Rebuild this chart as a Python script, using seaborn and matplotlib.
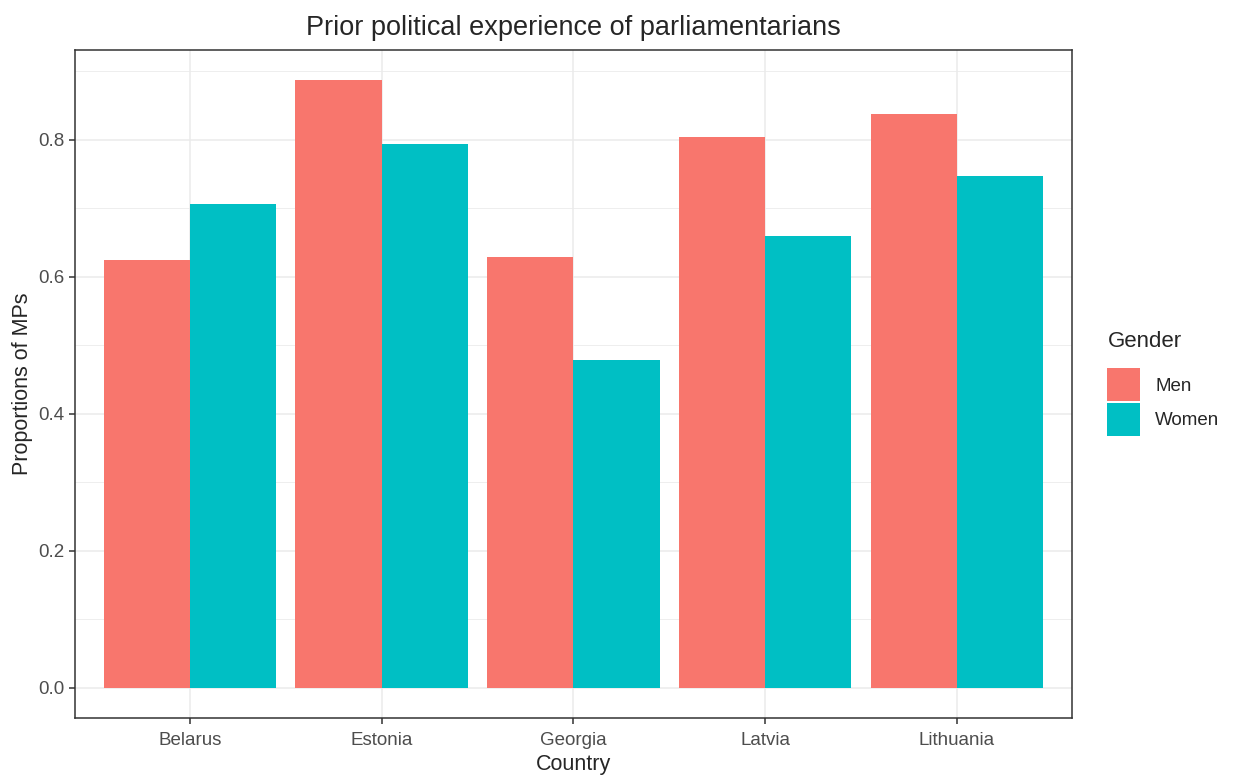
import pandas as pd
import numpy as np
import matplotlib.pyplot as plt
import seaborn as sns
from matplotlib.patches import Patch

# data
countries = ["Belarus", "Estonia", "Georgia", "Latvia", "Lithuania"]
men = [0.625, 0.887, 0.629, 0.804, 0.838]
women = [0.706, 0.794, 0.479, 0.660, 0.747]
genders = ["Men", "Women"]
colors = ["#F8766D", "#00BFC4"]

df = pd.DataFrame({
    "Country": countries * 2,
    "Gender": ["Men"] * len(countries) + ["Women"] * len(countries),
    "Proportion": men + women,
})

sns.set_style("white")
plt.rcParams["font.family"] = ["Liberation Sans", "DejaVu Sans"]

fig = plt.figure(figsize=(12.35, 7.76), dpi=100)
ax = fig.add_axes([0.0607, 0.0747, 0.8073, 0.8609])

sns.barplot(data=df, x="Country", y="Proportion", hue="Gender",
            hue_order=genders, palette=colors, width=0.9,
            saturation=1, errorbar=None, ax=ax, zorder=3, linewidth=0)

ax.set_xlim(-0.6, 4.6)
ax.set_ylim(-0.0444, 0.931)
ax.set_yticks([0, 0.2, 0.4, 0.6, 0.8])
ax.set_yticklabels(["0.0", "0.2", "0.4", "0.6", "0.8"])
ax.set_yticks([0.1, 0.3, 0.5, 0.7, 0.9], minor=True)

ax.grid(True, which="major", color="#EBEBEB", linewidth=1.1, zorder=0)
ax.grid(True, which="minor", axis="y", color="#EBEBEB", linewidth=0.6, zorder=0)
ax.set_axisbelow(True)

for s in ax.spines.values():
    s.set_color("#333333")
    s.set_linewidth(1.1)

ax.tick_params(axis="both", which="major", length=4, width=1.1, color="#333333",
               labelcolor="#4D4D4D", labelsize=13.5, left=True, bottom=True)
ax.tick_params(axis="x", which="major", pad=6)
ax.tick_params(axis="both", which="minor", length=0)

ax.set_xlabel("Country", fontsize=15.5, labelpad=4)
ax.set_ylabel("Proportions of MPs", fontsize=15.5, labelpad=4)
ax.set_title("Prior political experience of parliamentarians", fontsize=19.5, pad=11)

ax.get_legend().remove()
handles = [Patch(facecolor=c, edgecolor="none") for c in colors]
leg = fig.legend(handles, genders, title="Gender", loc="center left",
                 bbox_to_anchor=(0.883, 0.506), frameon=False, fontsize=13.5,
                 title_fontsize=16, handlelength=1.76, handleheight=2.3,
                 handletextpad=0.8, labelspacing=0.12, alignment="left")
leg._legend_box.sep = 12

fig.savefig("out.png", dpi=100)
